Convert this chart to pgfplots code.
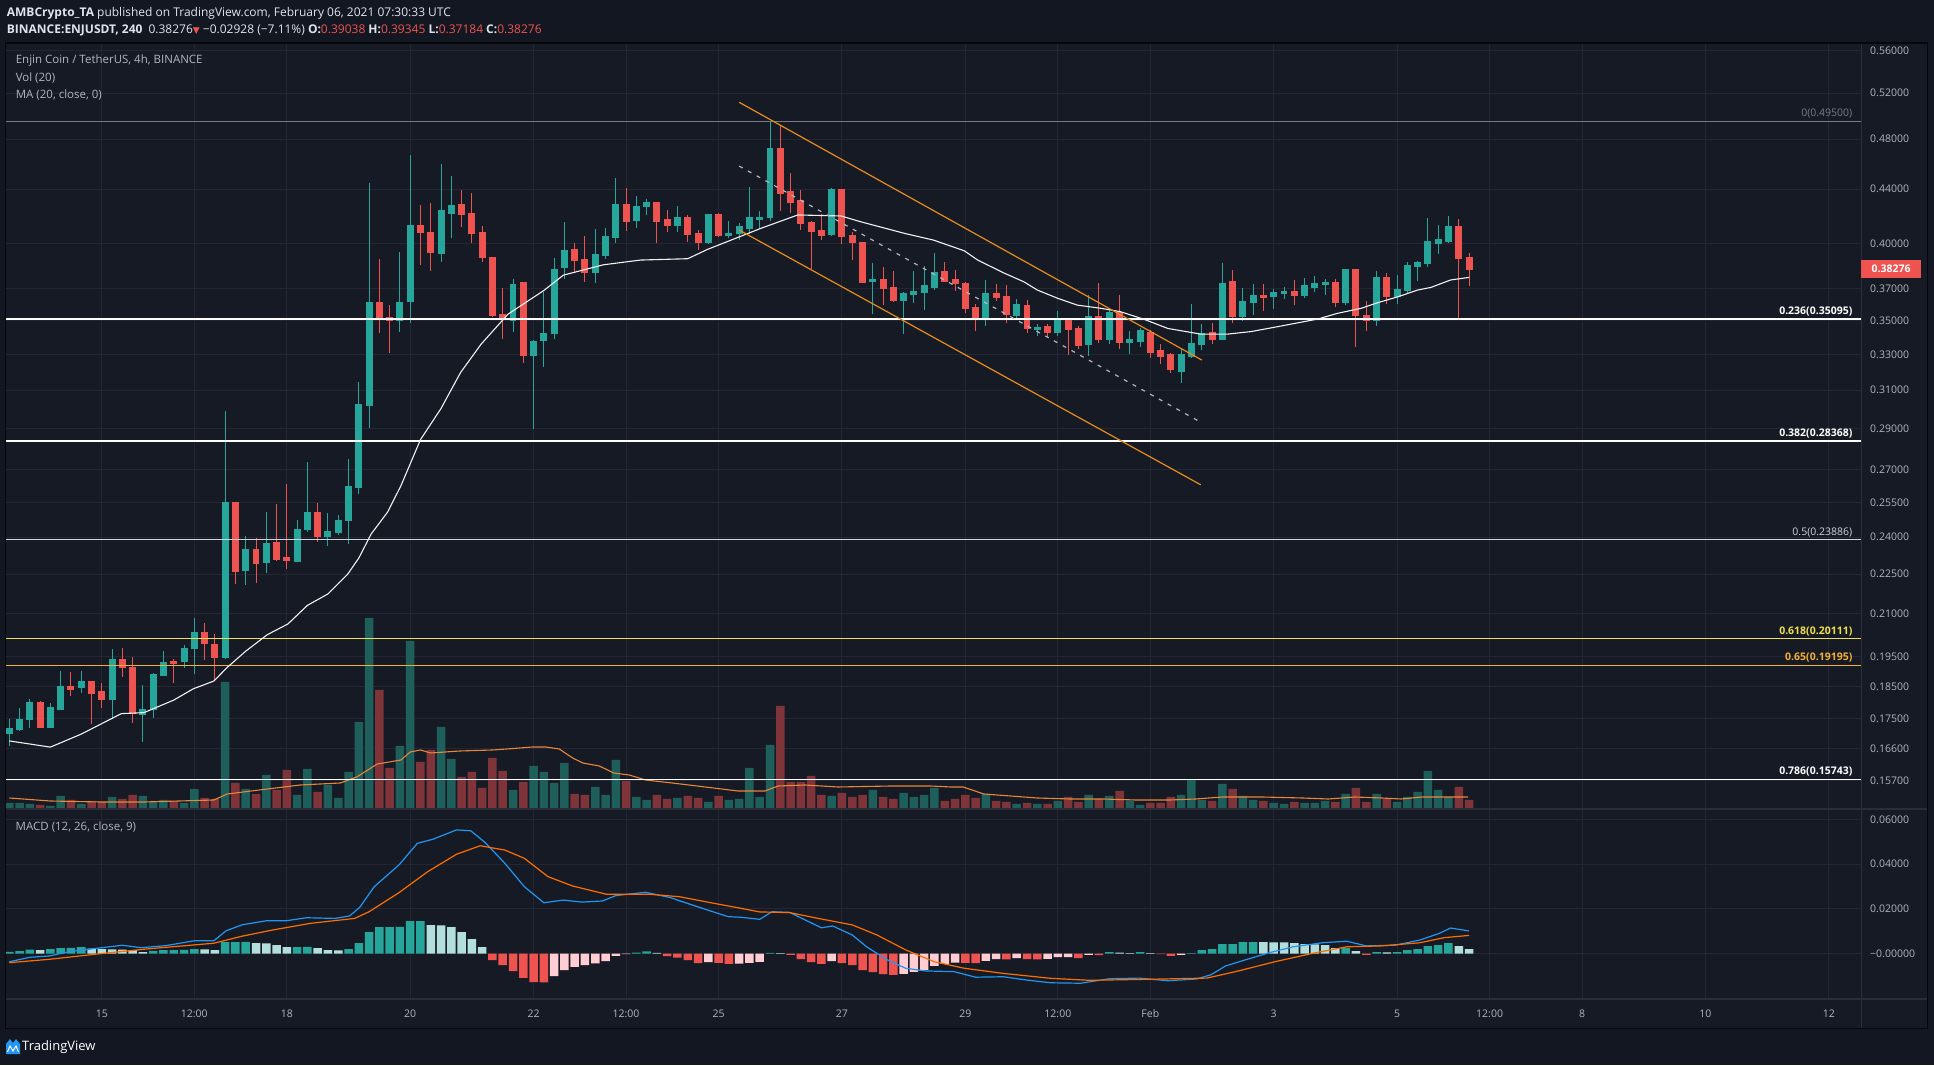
\documentclass[border=0pt]{standalone}
\usepackage{pgfplots}
\pgfplotsset{compat=1.18}
\usepackage{pgfplotstable}
\usepackage{fontspec}
\setmainfont{Open Sans}
\newfontfamily\dejavu{DejaVu Sans}

\definecolor{bg}{HTML}{131722}
\definecolor{pane}{HTML}{161A25}
\definecolor{gridc}{HTML}{242733}
\definecolor{sepc}{HTML}{2A2E39}
\definecolor{txt}{HTML}{B2B5BE}
\definecolor{hdr}{HTML}{E0E3EB}
\definecolor{up}{HTML}{26A69A}
\definecolor{dn}{HTML}{EF5350}
\definecolor{volup}{HTML}{1E5F5C}
\definecolor{voldn}{HTML}{7E3438}
\definecolor{volma}{HTML}{E8873A}
\definecolor{macdc}{HTML}{2196F3}
\definecolor{sigc}{HTML}{FF6D00}
\definecolor{hup}{HTML}{26A69A}
\definecolor{hupf}{HTML}{B2DFDB}
\definecolor{hdn}{HTML}{EF5350}
\definecolor{hdnr}{HTML}{FFCDD2}
\definecolor{fibgray}{HTML}{787B86}
\definecolor{fibhalf}{HTML}{D1D4DC}
\definecolor{fibyel}{HTML}{F0DF4E}
\definecolor{fiborg}{HTML}{F2B035}
\definecolor{chan}{HTML}{E68C1E}
\definecolor{tvblue}{HTML}{2196F3}

% 4h candles, x = candle number (0 = Jan 13 12:00 UTC)
% o h l c in USDT, v = volume, mh = MACD histogram, k = histogram colour class
\pgfplotstableread{
i o h l c v mh k
0 0.1704 0.1750 0.1669 0.1721 0.6 0.00075 0
1 0.1718 0.1781 0.1713 0.1748 0.6 0.00104 0
2 0.1748 0.1810 0.1722 0.1798 0.5 0.00179 0
3 0.1798 0.1804 0.1722 0.1722 0.4 0.00149 1
4 0.1724 0.1798 0.1722 0.1785 0.3 0.00194 0
5 0.1779 0.1901 0.1779 0.1849 1.3 0.00239 0
6 0.1849 0.1897 0.1821 0.1842 0.9 0.00250 0
7 0.1847 0.1901 0.1829 0.1868 0.5 0.00283 0
8 0.1868 0.1868 0.1734 0.1827 0.8 0.00224 1
9 0.1833 0.1862 0.1783 0.1808 0.7 0.00194 1
10 0.1808 0.1975 0.1750 0.1941 1.2 0.00180 1
11 0.1941 0.1978 0.1882 0.1912 1.0 0.00170 1
12 0.1914 0.1948 0.1737 0.1765 1.4 0.00149 1
13 0.1762 0.1855 0.1681 0.1779 1.3 0.00060 1
14 0.1777 0.1894 0.1752 0.1888 0.8 0.00119 0
15 0.1886 0.1968 0.1886 0.1931 0.9 0.00149 0
16 0.1934 0.1941 0.1862 0.1927 0.8 0.00155 0
17 0.1932 0.1989 0.1911 0.1978 0.6 0.00160 0
18 0.1976 0.2084 0.1892 0.2031 2.0 0.00194 0
19 0.2031 0.2066 0.1939 0.1993 1.1 0.00180 1
20 0.1992 0.2027 0.1871 0.1945 1.0 0.00149 1
21 0.1945 0.2989 0.1942 0.2547 12.7 0.00507 0
22 0.2547 0.2547 0.2213 0.2259 2.6 0.00510 0
23 0.2263 0.2404 0.2209 0.2350 2.0 0.00520 0
24 0.2350 0.2396 0.2217 0.2291 1.5 0.00462 1
25 0.2296 0.2507 0.2253 0.2375 3.4 0.00450 1
26 0.2379 0.2542 0.2303 0.2310 1.9 0.00373 1
27 0.2318 0.2631 0.2272 0.2303 3.9 0.00283 1
28 0.2301 0.2471 0.2298 0.2434 1.4 0.00290 0
29 0.2430 0.2734 0.2422 0.2507 4.0 0.00300 0
30 0.2507 0.2546 0.2379 0.2404 1.7 0.00239 1
31 0.2404 0.2501 0.2364 0.2424 2.4 0.00149 1
32 0.2420 0.2493 0.2410 0.2471 1.1 0.00140 1
33 0.2471 0.2752 0.2373 0.2623 3.7 0.00194 0
34 0.2617 0.3142 0.2587 0.3024 8.7 0.00462 0
35 0.3020 0.4449 0.2901 0.3611 19.1 0.00955 0
36 0.3611 0.3898 0.3423 0.3519 11.9 0.01178 0
37 0.3516 0.3597 0.3309 0.3502 4.1 0.01180 0
38 0.3497 0.3946 0.3433 0.3611 6.3 0.01190 0
39 0.3617 0.4669 0.3486 0.4128 16.8 0.01447 0
40 0.4128 0.4282 0.3856 0.4078 4.7 0.01450 0
41 0.4078 0.4295 0.3818 0.3937 5.9 0.01268 1
42 0.3934 0.4598 0.3874 0.4236 8.2 0.01260 1
43 0.4220 0.4500 0.4038 0.4273 5.0 0.01178 1
44 0.4280 0.4393 0.4119 0.4213 3.2 0.00955 1
45 0.4220 0.4370 0.4008 0.4071 3.7 0.00641 1
46 0.4083 0.4126 0.3875 0.3904 2.1 0.00283 1
47 0.3909 0.3909 0.3519 0.3533 5.1 -0.00298 2
48 0.3540 0.3702 0.3389 0.3505 3.8 -0.00522 2
49 0.3499 0.3762 0.3432 0.3729 1.9 -0.00790 2
50 0.3742 0.3742 0.3252 0.3292 2.7 -0.01089 2
51 0.3292 0.3385 0.2898 0.3377 4.3 -0.01283 2
52 0.3379 0.3680 0.3229 0.3424 3.7 -0.01290 2
53 0.3420 0.3902 0.3390 0.3828 2.6 -0.01014 3
54 0.3837 0.4155 0.3764 0.3957 4.6 -0.00746 3
55 0.3964 0.4005 0.3801 0.3889 1.5 -0.00597 3
56 0.3895 0.4054 0.3742 0.3808 1.4 -0.00522 3
57 0.3808 0.4104 0.3736 0.3929 2.2 -0.00447 3
58 0.3922 0.4111 0.3895 0.4054 1.4 -0.00343 3
59 0.4047 0.4486 0.4005 0.4287 4.9 -0.00104 3
60 0.4287 0.4408 0.4090 0.4162 2.8 -0.00030 3
61 0.4169 0.4347 0.4111 0.4265 1.2 0.00045 0
62 0.4265 0.4325 0.4206 0.4302 0.9 0.00090 0
63 0.4295 0.4302 0.4005 0.4162 1.4 0.00030 1
64 0.4176 0.4242 0.4083 0.4133 1.0 -0.00119 2
65 0.4133 0.4272 0.4083 0.4191 1.1 -0.00179 2
66 0.4191 0.4206 0.4012 0.4068 1.3 -0.00298 2
67 0.4076 0.4097 0.3957 0.4012 1.1 -0.00433 2
68 0.4012 0.4213 0.3998 0.4213 0.7 -0.00388 3
69 0.4213 0.4220 0.4047 0.4061 1.3 -0.00418 2
70 0.4061 0.4162 0.4040 0.4076 0.9 -0.00462 2
71 0.4076 0.4148 0.4026 0.4119 1.0 -0.00455 3
72 0.4111 0.4416 0.4068 0.4184 4.1 -0.00418 3
73 0.4176 0.4235 0.4104 0.4191 1.2 -0.00373 3
74 0.4184 0.4948 0.4162 0.4726 6.4 0.00030 0
75 0.4726 0.4919 0.4235 0.4370 10.3 0.00015 1
76 0.4378 0.4525 0.4220 0.4302 2.7 -0.00060 2
77 0.4317 0.4393 0.4097 0.4141 2.7 -0.00254 2
78 0.4148 0.4162 0.3828 0.4090 3.3 -0.00388 2
79 0.4097 0.4213 0.4026 0.4061 1.4 -0.00462 2
80 0.4068 0.4408 0.4054 0.4400 1.3 -0.00343 3
81 0.4393 0.4400 0.3998 0.4054 1.6 -0.00433 2
82 0.4061 0.4083 0.3889 0.4012 1.2 -0.00522 2
83 0.4012 0.4012 0.3736 0.3742 1.4 -0.00746 2
84 0.3749 0.3868 0.3540 0.3762 1.9 -0.00835 2
85 0.3762 0.3842 0.3595 0.3699 1.2 -0.00925 2
86 0.3710 0.3815 0.3614 0.3627 1.0 -0.00955 2
87 0.3627 0.3678 0.3418 0.3671 1.6 -0.00910 3
88 0.3665 0.3815 0.3608 0.3684 1.2 -0.00820 3
89 0.3678 0.3848 0.3564 0.3723 1.4 -0.00731 3
90 0.3710 0.3936 0.3691 0.3808 2.1 -0.00552 3
91 0.3815 0.3875 0.3742 0.3749 0.8 -0.00462 3
92 0.3756 0.3822 0.3684 0.3736 1.0 -0.00403 3
93 0.3736 0.3742 0.3546 0.3577 1.4 -0.00418 2
94 0.3583 0.3602 0.3436 0.3521 1.1 -0.00425 2
95 0.3521 0.3756 0.3466 0.3671 1.5 -0.00328 3
96 0.3671 0.3730 0.3621 0.3646 0.8 -0.00254 3
97 0.3652 0.3723 0.3484 0.3540 0.7 -0.00265 2
98 0.3533 0.3633 0.3515 0.3602 0.5 -0.00209 3
99 0.3595 0.3627 0.3424 0.3454 0.6 -0.00254 2
100 0.3448 0.3478 0.3406 0.3460 0.5 -0.00265 2
101 0.3466 0.3478 0.3400 0.3430 0.5 -0.00244 3
102 0.3430 0.3558 0.3406 0.3503 0.8 -0.00164 3
103 0.3497 0.3509 0.3296 0.3448 1.2 -0.00160 3
104 0.3454 0.3466 0.3331 0.3348 0.7 -0.00209 2
105 0.3354 0.3659 0.3290 0.3527 1.4 -0.00060 3
106 0.3527 0.3736 0.3366 0.3389 1.0 -0.00070 2
107 0.3389 0.3577 0.3360 0.3546 1.3 0.00060 0
108 0.3546 0.3659 0.3331 0.3366 1.8 0.00045 1
109 0.3366 0.3436 0.3302 0.3389 0.8 0.00015 1
110 0.3377 0.3454 0.3342 0.3442 0.4 0.00060 0
111 0.3430 0.3442 0.3279 0.3313 0.6 0.00015 1
112 0.3319 0.3360 0.3244 0.3290 0.6 -0.00030 2
113 0.3296 0.3308 0.3194 0.3211 1.2 -0.00104 2
114 0.3205 0.3331 0.3139 0.3296 1.4 -0.00060 3
115 0.3290 0.3602 0.3279 0.3360 2.9 0.00015 0
116 0.3354 0.3478 0.3325 0.3424 0.9 0.00149 0
117 0.3430 0.3484 0.3360 0.3389 0.8 0.00194 0
118 0.3389 0.3868 0.3385 0.3736 2.5 0.00418 0
119 0.3749 0.3822 0.3484 0.3527 2.0 0.00425 0
120 0.3527 0.3704 0.3497 0.3621 1.3 0.00507 0
121 0.3614 0.3730 0.3533 0.3659 0.9 0.00512 0
122 0.3659 0.3730 0.3558 0.3646 0.8 0.00505 1
123 0.3652 0.3697 0.3571 0.3678 0.6 0.00500 1
124 0.3671 0.3710 0.3633 0.3684 0.5 0.00495 1
125 0.3684 0.3756 0.3595 0.3659 0.7 0.00462 1
126 0.3659 0.3769 0.3640 0.3723 0.6 0.00418 1
127 0.3710 0.3782 0.3678 0.3736 0.6 0.00410 1
128 0.3730 0.3762 0.3659 0.3742 0.8 0.00373 1
129 0.3742 0.3762 0.3583 0.3614 0.7 0.00239 1
130 0.3614 0.3822 0.3595 0.3822 1.5 0.00245 0
131 0.3822 0.3828 0.3342 0.3533 2.1 0.00104 1
132 0.3533 0.3621 0.3436 0.3503 0.7 -0.00060 2
133 0.3503 0.3815 0.3466 0.3775 1.5 0.00060 0
134 0.3775 0.3802 0.3602 0.3652 1.0 0.00055 1
135 0.3652 0.3789 0.3602 0.3697 0.7 0.00060 0
136 0.3691 0.3875 0.3671 0.3855 1.2 0.00149 0
137 0.3848 0.3882 0.3749 0.3875 1.7 0.00194 0
138 0.3868 0.4184 0.3842 0.4019 3.8 0.00328 0
139 0.4005 0.4133 0.3929 0.4033 1.9 0.00373 0
140 0.4019 0.4199 0.4005 0.4126 1.2 0.00462 0
141 0.4119 0.4176 0.3515 0.3902 2.2 0.00328 1
142 0.39038 0.39345 0.37184 0.38276 0.9 0.00194 1
}\candles

% MA(20, close)
\pgfplotstableread{
i p
0 0.1683
4.0 0.1665
7.0 0.1703
10.9 0.1765
13.1 0.1768
16.0 0.1807
17.9 0.1843
19.9 0.1868
21.2 0.1913
23.0 0.1968
25.1 0.2025
27.1 0.2063
29.0 0.2131
31.0 0.2174
32.9 0.2249
34.0 0.2314
35.2 0.2413
36.8 0.2507
38.1 0.2625
40.0 0.2844
42.0 0.3003
43.9 0.3197
45.9 0.3359
48.5 0.3538
52.0 0.3688
53.9 0.3788
57.8 0.3857
61.4 0.3889
66.0 0.3898
67.9 0.3961
71.2 0.4054
73.1 0.4109
76.7 0.4206
80.9 0.4199
82.8 0.4157
87.1 0.4073
89.9 0.4026
92.9 0.3952
94.2 0.3889
96.8 0.3801
98.7 0.3744
100.0 0.3691
102.0 0.3638
103.9 0.3595
106.2 0.3575
108.1 0.3554
110.4 0.3507
112.7 0.3452
115.9 0.3418
118.5 0.3418
120.8 0.3433
123.4 0.3463
125.6 0.3489
127.3 0.3509
129.2 0.3544
131.5 0.3575
133.1 0.3610
135.1 0.3648
137.0 0.3691
138.3 0.3708
140.2 0.3756
142.0 0.3773
}\maline

% Vol(20) average
\pgfplotstableread{
i v
0 1.1
4 0.8
8.9 0.7
13.1 0.7
19.9 0.9
21.2 1.5
25.1 2.0
28.3 2.4
32.2 2.6
33.8 3.2
35.8 4.5
38.1 4.9
39 5.7
40 5.9
41 5.6
43.8 5.8
47.0 5.9
48.4 6.0
50.9 6.2
52.2 6.2
53.5 6.0
54.8 5.1
55.8 4.6
57.4 4.3
58.8 3.6
60.3 3.4
61.9 2.9
64.5 2.6
67.7 2.2
70.9 1.8
73.5 1.8
74.8 2.3
77.4 2.4
80.6 2.2
85.8 2.3
89.6 2.3
91.6 2.2
92.8 2.2
94.8 1.5
97.4 1.3
100.0 1.1
103.2 1.0
106.4 1.0
109.6 0.9
112.9 0.9
115.4 1.0
118.0 1.2
121.9 1.2
125.8 1.1
128.3 1.0
130.9 1.2
133.5 1.1
135.4 1.0
137.4 1.2
141.9 1.2
}\volavg

\pgfplotstableread{
i v
0 -0.0037
2.0 -0.0017
3.9 -0.0011
5.8 0.0008
8.1 0.0021
11.0 0.0037
12.8 0.0026
15.2 0.0035
18.0 0.0057
19.9 0.0057
21.1 0.0102
22.7 0.0129
25.1 0.0147
27.0 0.0147
28.9 0.0160
31.7 0.0157
33.1 0.0168
34.1 0.0207
35.5 0.0299
37.9 0.0396
39.7 0.0493
41.2 0.0511
43.5 0.0553
44.9 0.0549
46.3 0.0496
48.2 0.0404
50.1 0.0299
52.0 0.0227
53.9 0.0239
55.7 0.0230
57.7 0.0235
59.0 0.0259
61.9 0.0274
64.3 0.0250
67.1 0.0207
69.9 0.0165
71.2 0.0162
73.0 0.0153
74.2 0.0187
75.9 0.0184
79.0 0.0115
80.1 0.0123
82.0 0.0083
83.4 0.0030
85.3 -0.0026
87.2 -0.0066
89.1 -0.0078
91.9 -0.0081
94.0 -0.0106
96.7 -0.0104
99.0 -0.0119
101.3 -0.0131
104.2 -0.0133
107.0 -0.0113
109.9 -0.0110
112.7 -0.0122
115.5 -0.0114
116.9 -0.0095
118.3 -0.0056
120.2 -0.0029
122.6 0.0004
124.9 0.0030
127.7 0.0048
130.1 0.0055
132.0 0.0034
134.8 0.0037
137.2 0.0060
139.1 0.0090
140.2 0.0114
142.0 0.0101
}\macdline

\pgfplotstableread{
i v
0 -0.0041
3.9 -0.0026
8.6 -0.0002
13.3 0.0020
19.9 0.0046
22.7 0.0078
25.6 0.0105
29.3 0.0135
33.6 0.0157
35.0 0.0187
37.9 0.0272
40.7 0.0366
43.5 0.0444
45.8 0.0482
48.2 0.0463
50.1 0.0426
52.4 0.0344
54.8 0.0302
58.1 0.0265
62.3 0.0265
65.2 0.0254
68.5 0.0225
71.2 0.0202
73.0 0.0186
75.9 0.0183
78.7 0.0157
82.0 0.0128
84.4 0.0083
87.2 0.0016
90.0 -0.0037
92.9 -0.0066
96.7 -0.0089
101.3 -0.0111
105.1 -0.0120
111.2 -0.0115
116.5 -0.0110
119.3 -0.0081
123.1 -0.0037
126.8 0.0001
130.1 0.0030
133.4 0.0034
137.2 0.0048
139.6 0.0071
142.0 0.0081
}\signalline

\pgfplotsset{
  chart/.style={scale only axis, width=1855pt, xmin=-0.32, xmax=180.13,
    no markers, tick style={draw=none}, axis line style={draw=none}},
}
\tikzset{
  fiblab/.style={anchor=east, inner sep=0pt, yshift=7.5pt,
    font=\fontsize{10.5}{12}\selectfont\bfseries},
}

\begin{document}
\begin{tikzpicture}
\fill[bg] (0,0) rectangle (1934pt,1065pt);
\path[use as bounding box] (0,0) rectangle (1934pt,1065pt);
\fill[pane] (6pt,36.5pt) rectangle (1927pt,1022pt);

% price grid and scale
\begin{axis}[chart, at={(6pt,256.5pt)}, anchor=south west, height=765.2pt,
  ymode=log, ymin=0.14961, ymax=0.5672,
  ytick={0.157,0.166,0.175,0.185,0.195,0.21,0.225,0.24,0.255,0.27,0.29,0.31,0.33,0.35,0.37,0.40,0.44,0.48,0.52,0.56},
  yticklabels={0.15700,0.16600,0.17500,0.18500,0.19500,0.21000,0.22500,0.24000,0.25500,0.27000,0.29000,0.31000,0.33000,0.35000,0.37000,0.40000,0.44000,0.48000,0.52000,0.56000},
  yticklabel pos=right,
  yticklabel style={anchor=west, inner sep=0pt, xshift=9pt, text=txt, font=\fontsize{10.5}{12}\selectfont},
  xtick={9,18,27,39,51,60,69,81,93,102,111,123,135,144,153,165,177},
  xticklabels={},
  grid=major, major grid style={gridc, line width=1pt}]
\addplot[draw=none] coordinates {(0,0.3) (1,0.3)};
\end{axis}

% volume
\begin{axis}[chart, at={(6pt,256pt)}, anchor=south west, height=765.2pt,
  ymin=0, ymax=76.52, hide axis]
\addplot[ybar, bar width=8.5pt, bar shift=0pt, fill=volup, draw=none]
  table[x=i, y expr={\thisrow{c}>=\thisrow{o} ? \thisrow{v} : nan}] {\candles};
\addplot[ybar, bar width=8.5pt, bar shift=0pt, fill=voldn, draw=none]
  table[x=i, y expr={\thisrow{c}<\thisrow{o} ? \thisrow{v} : nan}] {\candles};
\addplot[volma, line width=1.1pt] table[x=i, y=v] {\volavg};
\end{axis}

% candles and drawings
\begin{axis}[chart, at={(6pt,256.5pt)}, anchor=south west, height=765.2pt,
  ymode=log, ymin=0.14961, ymax=0.5672, hide axis, clip mode=individual]
\pgfplotsforeachungrouped \n in {0,...,142}{%
  \pgfplotstablegetelem{\n}{o}\of\candles\let\vo\pgfplotsretval
  \pgfplotstablegetelem{\n}{h}\of\candles\let\vh\pgfplotsretval
  \pgfplotstablegetelem{\n}{l}\of\candles\let\vl\pgfplotsretval
  \pgfplotstablegetelem{\n}{c}\of\candles\let\vc\pgfplotsretval
  \ifdim\vc pt<\vo pt\def\cc{dn}\else\def\cc{up}\fi
  \pgfmathsetmacro\xa{\n-0.29}\pgfmathsetmacro\xb{\n+0.29}%
  \edef\tmp{\noexpand\addplot[\cc, line width=1pt, forget plot]
      coordinates {(\n,\vl) (\n,\vh)};
    \noexpand\addplot[fill=\cc, draw=\cc, line width=1pt, forget plot]
      coordinates {(\xa,\vo) (\xb,\vo) (\xb,\vc) (\xa,\vc)} -- cycle;}%
  \tmp
}
% Fibonacci levels
\addplot[fibgray, line width=1pt] coordinates {(-0.32,0.495) (180.13,0.495)};
\addplot[white, line width=1.4pt] coordinates {(-0.32,0.35095) (180.13,0.35095)};
\addplot[white, line width=1.4pt] coordinates {(-0.32,0.28368) (180.13,0.28368)};
\addplot[fibhalf, line width=1pt] coordinates {(-0.32,0.23886) (180.13,0.23886)};
\addplot[fibyel, line width=1.3pt] coordinates {(-0.32,0.20111) (180.13,0.20111)};
\addplot[fiborg, line width=1.3pt] coordinates {(-0.32,0.19195) (180.13,0.19195)};
\addplot[white, line width=1.4pt] coordinates {(-0.32,0.15743) (180.13,0.15743)};
% MA(20)
\addplot[white!90!gray, line width=1.1pt] table[x=i, y=p] {\maline};
% channel and dashed trendline
\addplot[chan, line width=1.2pt] coordinates {(71.0,0.5118) (116.0,0.3267)};
\addplot[chan, line width=1.2pt] coordinates {(71.0,0.4097) (115.9,0.2629)};
\addplot[txt, line width=1.2pt, dash pattern=on 4pt off 6pt] coordinates {(71.0,0.4580) (116.0,0.2929)};
% labels
\node[fiblab, text=fibgray, font=\fontsize{10.5}{12}\selectfont] at (axis cs:179.3,0.495) {0(0.49500)};
\node[fiblab, text=white] at (axis cs:179.3,0.35095) {0.236(0.35095)};
\node[fiblab, text=white] at (axis cs:179.3,0.28368) {0.382(0.28368)};
\node[fiblab, text=fibhalf, font=\fontsize{10.5}{12}\selectfont] at (axis cs:179.3,0.23886) {0.5(0.23886)};
\node[fiblab, text=fibyel] at (axis cs:179.3,0.20111) {0.618(0.20111)};
\node[fiblab, text=fiborg] at (axis cs:179.3,0.19195) {0.65(0.19195)};
\node[fiblab, text=white] at (axis cs:179.3,0.15743) {0.786(0.15743)};
\coordinate (lastp) at (axis cs:180.13,0.38276);
\end{axis}

% MACD pane
\begin{axis}[chart, at={(6pt,66.5pt)}, anchor=south west, height=189pt,
  ymin=-0.02013, ymax=0.06443, scaled y ticks=false,
  ytick={0,0.02,0.04,0.06},
  yticklabels={−0.00000,0.02000,0.04000,0.06000},
  yticklabel pos=right,
  yticklabel style={anchor=west, inner sep=0pt, xshift=9pt, text=txt, font=\fontsize{10.5}{12}\selectfont},
  xtick={9,18,27,39,51,60,69,81,93,102,111,123,135,144,153,165,177},
  xticklabels={15,12:00,18,20,22,12:00,25,27,29,12:00,Feb,3,5,12:00,8,10,12},
  xticklabel style={anchor=center, inner sep=0pt, yshift=-15.5pt, text=txt, font=\fontsize{10.5}{12}\selectfont},
  grid=major, major grid style={gridc, line width=1pt}]
\addplot[ybar, bar width=8.5pt, bar shift=0pt, fill=hup, draw=none]
  table[x=i, y expr={\thisrow{k}==0 ? \thisrow{mh} : nan}] {\candles};
\addplot[ybar, bar width=8.5pt, bar shift=0pt, fill=hupf, draw=none]
  table[x=i, y expr={\thisrow{k}==1 ? \thisrow{mh} : nan}] {\candles};
\addplot[ybar, bar width=8.5pt, bar shift=0pt, fill=hdn, draw=none]
  table[x=i, y expr={\thisrow{k}==2 ? \thisrow{mh} : nan}] {\candles};
\addplot[ybar, bar width=8.5pt, bar shift=0pt, fill=hdnr, draw=none]
  table[x=i, y expr={\thisrow{k}==3 ? \thisrow{mh} : nan}] {\candles};
\addplot[macdc, line width=1.2pt] table[x=i, y=v] {\macdline};
\addplot[sigc, line width=1.2pt] table[x=i, y=v] {\signalline};
\end{axis}

% pane frames
\draw[sepc, line width=1.5pt] (6pt,256pt) -- (1927pt,256pt);
\draw[sepc, line width=1.5pt] (6pt,66pt) -- (1927pt,66pt);
\draw[sepc, line width=1pt] (1861pt,36.5pt) -- (1861pt,1022pt);
\draw[black!70!bg, line width=1.5pt] (5.5pt,36.5pt) rectangle (1927.5pt,1022pt);

% last price tag
\node[fill=dn, text=white, anchor=west, minimum width=60pt, minimum height=18.4pt,
  inner sep=0pt, font=\fontsize{10.5}{12}\selectfont\bfseries] at (lastp) {0.38276};

% legends
\begin{scope}[every node/.style={anchor=west, inner sep=0pt, text=txt, font=\fontsize{11.5}{13}\selectfont}]
\node at (15.6pt,1004.5pt) {Enjin Coin / TetherUS, 4h, BINANCE};
\node at (15.6pt,987.2pt) {Vol (20)};
\node at (15.6pt,970.3pt) {MA (20, close, 0)};
\node at (15.5pt,238.3pt) {MACD (12, 26, close, 9)};
\end{scope}

% header
\node[anchor=west, inner sep=0pt, text=hdr, font=\fontsize{12}{14}\selectfont] at (6.7pt,1051.7pt)
  {\textbf{AMBCrypto\_TA} published on TradingView.com, February 06, 2021 07:30:33 UTC};
\node[anchor=west, inner sep=0pt, text=hdr, font=\fontsize{12}{14}\selectfont] at (6.7pt,1035pt)
  {\textbf{BINANCE:ENJUSDT, 240}\enspace 0.38276{\dejavu\fontsize{9}{10}\selectfont\textcolor{dn}{▼}} −0.02928 (−7.11\%) \textbf{O:}\textcolor{dn}{0.39038} \textbf{H:}\textcolor{dn}{0.39345} \textbf{L:}\textcolor{dn}{0.37184} \textbf{C:}\textcolor{dn}{0.38276}};

% TradingView mark
\fill[tvblue] (6pt,11pt) -- (20pt,11pt) -- (20pt,21pt) -- (16pt,26pt) -- (13pt,22pt) -- (10pt,26pt) -- (6pt,21pt) -- cycle;
\draw[white, line width=1pt] (7.5pt,13pt) -- (10pt,19pt) -- (13pt,14pt) -- (16pt,19pt) -- (18.5pt,13pt);
\node[anchor=west, inner sep=0pt, text=white, font=\fontsize{13}{15}\selectfont] at (22pt,18pt) {TradingView};
\end{tikzpicture}
\end{document}
